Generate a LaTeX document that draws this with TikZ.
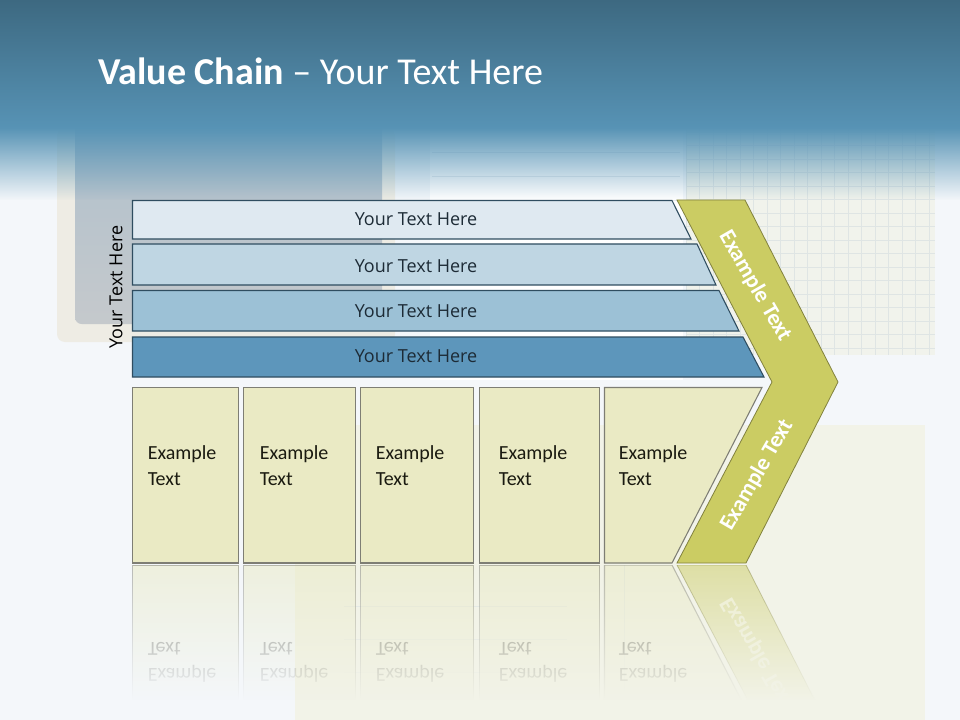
\documentclass[tikz,border=0pt]{standalone}
\usepackage{fontspec}
\setmainfont{Carlito}
\newfontfamily\osans{Open Sans}
\usetikzlibrary{fadings}
\definecolor{bgc}{HTML}{F4F7FA}
\definecolor{cream}{HTML}{F2F3E8}
\definecolor{bandtop}{HTML}{3D6981}
\definecolor{bandbot}{HTML}{5793B5}
\definecolor{padframe}{HTML}{EEECE4}
\definecolor{padtop}{HTML}{AFC0CC}
\definecolor{padbot}{HTML}{C5C9CC}
\definecolor{gridpaper}{HTML}{F1F3EC}
\definecolor{gridline}{HTML}{DFE5E4}
\definecolor{paperline}{HTML}{E6EAEE}
\definecolor{barA}{HTML}{DFE9F1}
\definecolor{barB}{HTML}{BFD6E3}
\definecolor{barC}{HTML}{9CC1D6}
\definecolor{barD}{HTML}{5D96BB}
\definecolor{barline}{HTML}{2F4D60}
\definecolor{bartextc}{HTML}{1D2B36}
\definecolor{chev}{HTML}{CBCC63}
\definecolor{chevline}{HTML}{82823E}
\definecolor{boxc}{HTML}{EAEAC4}
\definecolor{boxline}{HTML}{7E7E74}
\definecolor{boxtextc}{HTML}{1A1A10}
\tikzfading[name=fadedown, top color=transparent!100, bottom color=transparent!0]
\tikzfading[name=fadeup, top color=transparent!0, bottom color=transparent!100]
\tikzset{
  barshape/.style={draw=barline, line width=0.8pt},
  bartext/.style={font=\osans\fontsize{13.5}{16}\selectfont, text=bartextc, inner sep=0pt},
  chevshape/.style={draw=chevline, line width=0.6pt, fill=chev},
  chevtext/.style={font=\bfseries\fontsize{17}{20}\selectfont, text=white, inner sep=0pt},
  boxshape/.style={draw=boxline, line width=0.8pt, fill=boxc},
  boxtext/.style={font=\fontsize{15}{19.5}\selectfont, text=boxtextc, align=left, anchor=north west, inner sep=0pt},
}
\newcommand\lowerset[1]{%
  \draw[boxshape] (132.5,387.5) rectangle (238.5,563);
  \draw[boxshape] (243.5,387.5) rectangle (355.5,563);
  \draw[boxshape] (360.5,387.5) rectangle (473.5,563);
  \draw[boxshape] (479.5,387.5) rectangle (599.5,563);
  \draw[boxshape] (604.5,387.5) -- (762,387.5) -- (672,563) -- (604.5,563) -- cycle;
  \node[boxtext] (#1t1) at (147.5,445) {Example\\Text};
  \node[boxtext] (#1t2) at (259.5,445) {Example\\Text};
  \node[boxtext] (#1t3) at (375.5,445) {Example\\Text};
  \node[boxtext] (#1t4) at (498.5,445) {Example\\Text};
  \node[boxtext] (#1t5) at (618.5,445) {Example\\Text};
}
\begin{document}
\begin{tikzpicture}[x=0.75pt,y=-0.75pt]
\useasboundingbox (0,0) rectangle (960,720);
\fill[bgc] (0,0) rectangle (960,720);
% background pictures
\fill[cream] (295,425) rectangle (925,720);
\foreach \yy in {606,639,672,705} \draw[gridline, line width=0.6pt] (344,\yy) -- (567,\yy);
\draw[gridline, line width=0.6pt] (624,565) -- (624,720);
\fill[padframe, rounded corners=6pt] (57,128) rectangle (395,342);
\shade[top color=padtop, bottom color=padbot, rounded corners=5pt] (75,120) rectangle (382,324);
\fill[white] (430,128) rectangle (683,380);
\foreach \yy in {152,176,200,224} \draw[paperline, line width=0.6pt] (432,\yy) -- (680,\yy);
\fill[gridpaper] (686,128) rectangle (935,355);
\foreach \xx in {0,...,18} \draw[gridline, line width=0.5pt] (686+13.5*\xx,128) -- (686+13.5*\xx,355);
\foreach \yy in {0,...,16} \draw[gridline, line width=0.5pt] (686,132+13.5*\yy) -- (935,132+13.5*\yy);
% top band
\shade[top color=bandtop, bottom color=bandbot] (0,0) rectangle (960,128);
\fill[bandbot, path fading=fadeup] (0,127.5) rectangle (960,200);
\node[anchor=base west, text=white, font=\fontsize{28.5}{34}\selectfont, inner sep=0pt] (title) at (98,85) {\textbf{Value Chain} – Your Text Here};
% bars
\draw[barshape, fill=barA] (132.5,200.5) -- (672,200.5) -- (691,239) -- (132.5,239) -- cycle;
\draw[barshape, fill=barB] (132.5,244) -- (697,244) -- (716,285) -- (132.5,285) -- cycle;
\draw[barshape, fill=barC] (132.5,290.5) -- (719,290.5) -- (739,331) -- (132.5,331) -- cycle;
\draw[barshape, fill=barD] (132.5,337) -- (743,337) -- (764,377) -- (132.5,377) -- cycle;
\node[bartext] (b1) at (416,219.5) {Your Text Here};
\node[bartext] (b2) at (416,266) {Your Text Here};
\node[bartext] (b3) at (416,311) {Your Text Here};
\node[bartext] (b4) at (416,356.5) {Your Text Here};
\node[bartext, text=black, rotate=90] (side) at (116,287) {Your Text Here};
% chevron
\draw[chevshape] (677,200) -- (745,200) -- (838,382) -- (746,563) -- (677,563) -- (772,382) -- cycle;
\node[chevtext, rotate=-60] (c1) at (755,286) {Example Text};
\node[chevtext, rotate=60] (c2) at (757,475) {Example Text};
% boxes
\lowerset{a}
% reflection
\begin{scope}
\clip (0,565) rectangle (960,720);
\begin{scope}[shift={(0,1128)}, yscale=-1, transform shape, opacity=0.5]
\lowerset{r}
\draw[chevshape] (677,200) -- (745,200) -- (838,382) -- (746,563) -- (677,563) -- (772,382) -- cycle;
\node[chevtext, rotate=60] (rc2) at (757,475) {Example Text};
\end{scope}
\end{scope}
\fill[bgc, path fading=fadedown] (0,564.5) rectangle (295,700);
\fill[bgc] (0,700) rectangle (295,720);
\fill[cream, path fading=fadedown] (295,564.5) rectangle (925,700);
\fill[cream] (295,700) rectangle (925,720);
\fill[bgc, path fading=fadedown] (925,564.5) rectangle (960,700);
\end{tikzpicture}
\end{document}
